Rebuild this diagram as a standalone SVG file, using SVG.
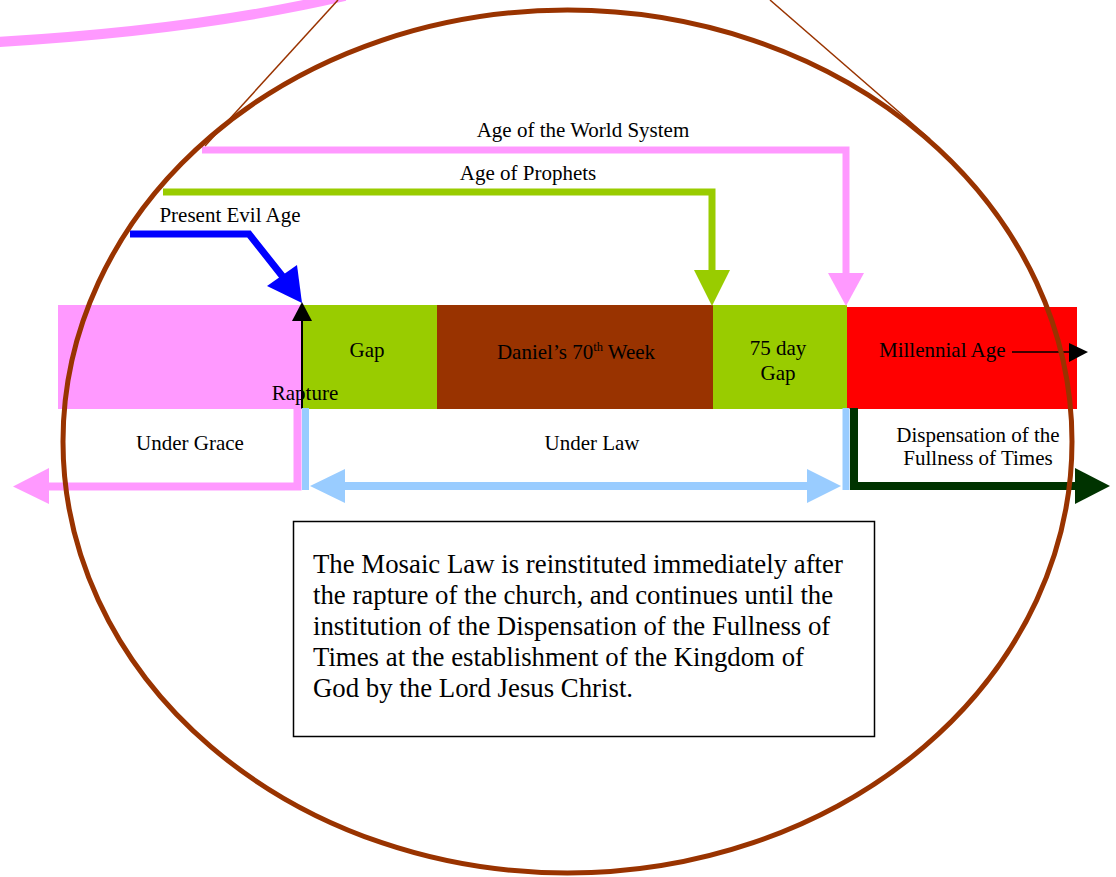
<svg xmlns="http://www.w3.org/2000/svg" width="1116" height="877" viewBox="0 0 1116 877">
<style>
text{font-family:"Liberation Serif","Times New Roman",serif;fill:#000}
.lbl{font-size:21px}
.mid{text-anchor:middle}
.body{font-size:26.8px}
.pk{fill:#FF99FF}.gr{fill:#99CC00}.br{fill:#993300}.rd{fill:#FF0000}
.thick{fill:none;stroke-linejoin:miter;stroke-linecap:butt}
</style>
<rect width="1116" height="877" fill="#fff"/>
<!-- decorative top arc -->
<path d="M-2,42 Q200,30 345,-4" fill="none" stroke="#FF99FF" stroke-width="10"/>
<!-- timeline bar -->
<g id="seg-grace"><rect class="pk" x="58" y="305" width="244" height="104"/></g>
<g id="seg-gap"><rect class="gr" x="302" y="305" width="135" height="104"/><text class="lbl mid" x="367" y="357">Gap</text></g>
<g id="seg-daniel"><rect class="br" x="437" y="305" width="276" height="104"/><text class="lbl mid" x="576" y="359">Daniel’s 70<tspan font-size="12.5" dy="-8">th</tspan><tspan dy="8"> Week</tspan></text></g>
<g id="seg-75day"><rect class="gr" x="713" y="305" width="134" height="104"/><text class="lbl mid" x="778" y="355">75 day</text><text class="lbl mid" x="778" y="380">Gap</text></g>
<g id="seg-millennial"><rect class="rd" x="847" y="307" width="230" height="102"/><text class="lbl" x="879" y="357">Millennial Age</text></g>
<!-- labels -->
<g id="lbl-world"><text class="lbl mid" x="583" y="137">Age of the World System</text></g>
<g id="lbl-prophets"><text class="lbl mid" x="528" y="180">Age of Prophets</text></g>
<g id="lbl-evil"><text class="lbl mid" x="230" y="222">Present Evil Age</text></g>
<g id="lbl-grace"><text class="lbl mid" x="190" y="450">Under Grace</text></g>
<g id="lbl-law"><text class="lbl mid" x="592" y="450">Under Law</text></g>
<g id="lbl-fullness"><text class="lbl mid" x="978" y="442">Dispensation of the</text><text class="lbl mid" x="978" y="465">Fullness of Times</text></g>
<!-- connectors -->
<g id="connectors">
  <!-- Age of the World System -->
  <polyline class="thick" points="202,150 846,150 846,274" stroke="#FF99FF" stroke-width="7"/>
  <polygon points="828,273 864,273 846,306" fill="#FF99FF"/>
  <!-- Age of Prophets -->
  <polyline class="thick" points="163,192 712,192 712,271" stroke="#99CC00" stroke-width="7"/>
  <polygon points="694,270 730,270 712,306" fill="#99CC00"/>
  <!-- Present Evil Age -->
  <polyline class="thick" points="130,234 249,234 283,277" stroke="#0000FF" stroke-width="7"/>
  <polygon points="302,303 267,286 297,265" fill="#0000FF"/>
  <!-- Rapture -->
  <line x1="302" y1="409" x2="302" y2="318" stroke="#000" stroke-width="2"/>
  <polygon points="302,302 292,321 312,321" fill="#000"/>
  <!-- Millennial Age arrow -->
  <line x1="1012" y1="352" x2="1072" y2="352" stroke="#000" stroke-width="1.5"/>
  <polygon points="1069,343 1088,352 1069,362" fill="#000"/>
  <!-- Under Grace -->
  <polyline class="thick" points="297.5,408 297.5,486.5 47,486.5" stroke="#FF99FF" stroke-width="8"/>
  <polygon points="13,486.5 49,468 49,504" fill="#FF99FF"/>
  <!-- Under Law -->
  <line x1="305.5" y1="408" x2="305.5" y2="490" stroke="#99CCFF" stroke-width="7"/>
  <line x1="846" y1="408" x2="846" y2="490" stroke="#99CCFF" stroke-width="7"/>
  <line x1="343" y1="486" x2="809" y2="486" stroke="#99CCFF" stroke-width="8"/>
  <polygon points="310,486 345,469 345,503" fill="#99CCFF"/>
  <polygon points="841,486 807,469 807,503" fill="#99CCFF"/>
  <!-- Dispensation of the Fullness of Times -->
  <polyline class="thick" points="854,408 854,486 1077,486" stroke="#003300" stroke-width="8"/>
  <polygon points="1075,468 1110,486 1075,504" fill="#003300"/>
</g>
<g id="lbl-rapture"><text class="lbl mid" x="305" y="400">Rapture</text></g>
<!-- note box -->
<g id="note">
  <rect x="293.5" y="521.5" width="581" height="215" fill="#fff" stroke="#000" stroke-width="1.5"/>
  <text class="body" x="313" y="573">The Mosaic Law is reinstituted immediately after</text>
  <text class="body" x="313" y="604">the rapture of the church, and continues until the</text>
  <text class="body" x="313" y="635">institution of the Dispensation of the Fullness of</text>
  <text class="body" x="313" y="666">Times at the establishment of the Kingdom of</text>
  <text class="body" x="313" y="697">God by the Lord Jesus Christ.</text>
</g>
<!-- lens ellipse and lines -->
<g id="lens">
  <line x1="338" y1="0" x2="205" y2="146" stroke="#993300" stroke-width="1.5"/>
  <line x1="770" y1="0" x2="930" y2="139" stroke="#993300" stroke-width="1.5"/>
  <ellipse cx="567.5" cy="441.5" rx="504.5" ry="431.5" fill="none" stroke="#993300" stroke-width="5"/>
</g>
</svg>
